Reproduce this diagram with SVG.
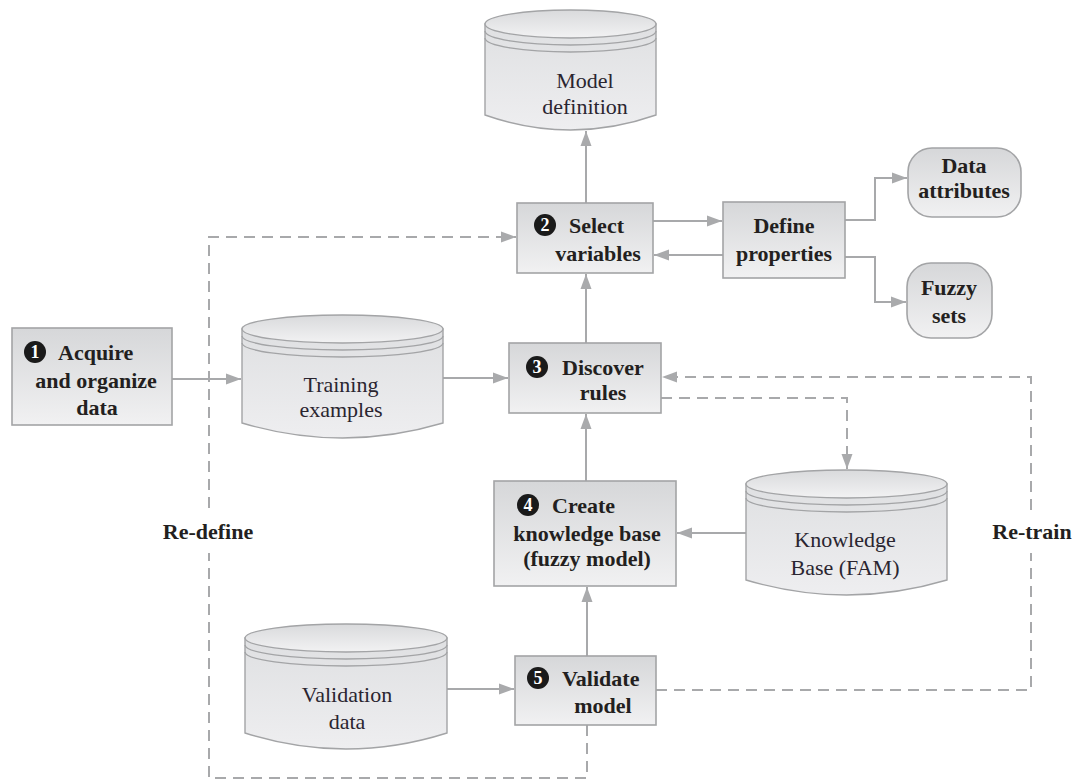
<svg xmlns="http://www.w3.org/2000/svg" width="1074" height="780" viewBox="0 0 1074 780">
  <defs>
    <linearGradient id="boxFill" x1="0" y1="0" x2="0" y2="1">
      <stop offset="0" stop-color="#d6d7d9"/>
      <stop offset="1" stop-color="#f1f1f2"/>
    </linearGradient>
    <linearGradient id="cylBody" x1="0" y1="0" x2="0" y2="1">
      <stop offset="0" stop-color="#dfe0e2"/>
      <stop offset="1" stop-color="#eeeef0"/>
    </linearGradient>
    <linearGradient id="cylTop" x1="0" y1="0" x2="0" y2="1">
      <stop offset="0" stop-color="#d9dadc"/>
      <stop offset="1" stop-color="#f2f2f3"/>
    </linearGradient>
    <marker id="arrow" markerUnits="userSpaceOnUse" markerWidth="16" markerHeight="12" viewBox="0 0 16 12" refX="15" refY="6" orient="auto">
      <path d="M0,0.5 L15,6 L0,11.5 z" fill="#a9aaac"/>
    </marker>
    <style>
      .box { fill: url(#boxFill); stroke: #a3a4a6; stroke-width: 1.6; }
      .cyl { fill: url(#cylBody); stroke: #a3a4a6; stroke-width: 1.4; }
      .cyltop { fill: url(#cylTop); stroke: #a3a4a6; stroke-width: 1.4; }
      .stripe { fill: none; stroke: #a3a4a6; stroke-width: 1.4; }
      .b { font-family: "Liberation Serif", "Times New Roman", serif; font-weight: bold; font-size: 22px; fill: #231f20; }
      .r { font-family: "Liberation Serif", "Times New Roman", serif; font-size: 22px; fill: #2a2530; }
      .num { font-family: "Liberation Serif", "Times New Roman", serif; font-weight: bold; font-size: 18px; fill: #ffffff; }
      .mid { text-anchor: middle; }
      .badge { fill: #1a1a1a; }
      .line { fill: none; stroke: #a8a9ab; stroke-width: 2; }
      .dash { fill: none; stroke: #a8a9ab; stroke-width: 2; stroke-dasharray: 11 7; }
    </style>
  </defs>

  <rect width="1074" height="780" fill="#ffffff"/>

  <!-- connectors -->
  <g id="connectors">
    <path class="line" d="M172,379 H241" marker-end="url(#arrow)"/>
    <path class="line" d="M443,378 H508" marker-end="url(#arrow)"/>
    <path class="line" d="M586,343 V274" marker-end="url(#arrow)"/>
    <path class="line" d="M586,203 V131" marker-end="url(#arrow)"/>
    <path class="line" d="M653,221 H722" marker-end="url(#arrow)"/>
    <path class="line" d="M723,255 H654" marker-end="url(#arrow)"/>
    <path class="line" d="M845,220 H875 V178 H907" marker-end="url(#arrow)"/>
    <path class="line" d="M845,257 H875 V302 H906" marker-end="url(#arrow)"/>
    <path class="line" d="M586,481 V414" marker-end="url(#arrow)"/>
    <path class="line" d="M746,533 H677" marker-end="url(#arrow)"/>
    <path class="line" d="M447,689 H514" marker-end="url(#arrow)"/>
    <path class="line" d="M587,656 V587" marker-end="url(#arrow)"/>
    <path class="dash" d="M661,398 H847 V469" marker-end="url(#arrow)"/>
    <path class="dash" d="M656,690 H1031 V553"/>
    <path class="dash" d="M1031,510 V377 H662" marker-end="url(#arrow)"/>
    <path class="dash" d="M587,725 V778 H209 V553"/>
    <path class="dash" d="M209,508 V237 H516" marker-end="url(#arrow)"/>
    <text class="b mid" x="208" y="539">Re-define</text>
    <text class="b mid" x="1032" y="539">Re-train</text>
  </g>

  <!-- data stores -->
  <g id="model-definition">
    <path class="cyl" d="M485,24 V115 Q570.5,145 656,115 V24 Z"/>
    <ellipse class="cyltop" cx="570.5" cy="24" rx="85.5" ry="14"/>
    <path class="stripe" d="M485,31 A85.5,14 0 0 0 656,31 M485,38 A85.5,14 0 0 0 656,38"/>
    <text class="r mid" x="585" y="88">Model</text>
    <text class="r mid" x="585" y="114">definition</text>
  </g>

  <g id="training-examples">
    <path class="cyl" d="M242,329 V423 Q342.5,453 443,423 V329 Z"/>
    <ellipse class="cyltop" cx="342.5" cy="329" rx="100.5" ry="14"/>
    <path class="stripe" d="M242,336 A100.5,14 0 0 0 443,336 M242,343 A100.5,14 0 0 0 443,343"/>
    <text class="r mid" x="341" y="392">Training</text>
    <text class="r mid" x="341" y="417">examples</text>
  </g>

  <g id="knowledge-base-fam">
    <path class="cyl" d="M746,484 V580 Q846.5,610 947,580 V484 Z"/>
    <ellipse class="cyltop" cx="846.5" cy="484" rx="100.5" ry="14"/>
    <path class="stripe" d="M746,491 A100.5,14 0 0 0 947,491 M746,498 A100.5,14 0 0 0 947,498"/>
    <text class="r mid" x="845" y="547">Knowledge</text>
    <text class="r mid" x="845" y="575">Base (FAM)</text>
  </g>

  <g id="validation-data">
    <path class="cyl" d="M245,638 V733 Q346,765 447,733 V638 Z"/>
    <ellipse class="cyltop" cx="346" cy="638" rx="101" ry="14"/>
    <path class="stripe" d="M245,645 A101,14 0 0 0 447,645 M245,652 A101,14 0 0 0 447,652"/>
    <text class="r mid" x="347" y="702">Validation</text>
    <text class="r mid" x="347" y="729">data</text>
  </g>

  <!-- process steps -->
  <g id="step1-acquire">
    <rect class="box" x="12" y="328" width="160" height="97"/>
    <circle class="badge" cx="35" cy="352" r="11"/>
    <text class="num mid" x="35" y="358">1</text>
    <text class="b" x="58" y="360">Acquire</text>
    <text class="b mid" x="96" y="388">and organize</text>
    <text class="b mid" x="97" y="415">data</text>
  </g>

  <g id="step2-select">
    <rect class="box" x="517" y="203" width="136" height="70"/>
    <circle class="badge" cx="545" cy="225" r="11"/>
    <text class="num mid" x="545" y="231">2</text>
    <text class="b" x="569" y="233">Select</text>
    <text class="b mid" x="598" y="261">variables</text>
  </g>

  <g id="define-properties">
    <rect class="box" x="723" y="202" width="122" height="76"/>
    <text class="b mid" x="784" y="233">Define</text>
    <text class="b mid" x="784" y="261">properties</text>
  </g>

  <g id="data-attributes">
    <rect class="box" x="908" y="148" width="113" height="69" rx="24" ry="24"/>
    <text class="b mid" x="964" y="173">Data</text>
    <text class="b mid" x="964" y="198">attributes</text>
  </g>

  <g id="fuzzy-sets">
    <rect class="box" x="907" y="263" width="85" height="75" rx="24" ry="24"/>
    <text class="b mid" x="949" y="295">Fuzzy</text>
    <text class="b mid" x="949" y="323">sets</text>
  </g>

  <g id="step3-discover">
    <rect class="box" x="509" y="343" width="152" height="70"/>
    <circle class="badge" cx="537" cy="367" r="11"/>
    <text class="num mid" x="537" y="373">3</text>
    <text class="b" x="562" y="375">Discover</text>
    <text class="b mid" x="603" y="400">rules</text>
  </g>

  <g id="step4-create">
    <rect class="box" x="494" y="481" width="182" height="105"/>
    <circle class="badge" cx="528" cy="505" r="11"/>
    <text class="num mid" x="528" y="511">4</text>
    <text class="b" x="552" y="513">Create</text>
    <text class="b mid" x="587" y="541">knowledge base</text>
    <text class="b mid" x="587" y="566">(fuzzy model)</text>
  </g>

  <g id="step5-validate">
    <rect class="box" x="515" y="656" width="141" height="69"/>
    <circle class="badge" cx="538" cy="678" r="11"/>
    <text class="num mid" x="538" y="684">5</text>
    <text class="b" x="562" y="686">Validate</text>
    <text class="b mid" x="603" y="713">model</text>
  </g>
</svg>
